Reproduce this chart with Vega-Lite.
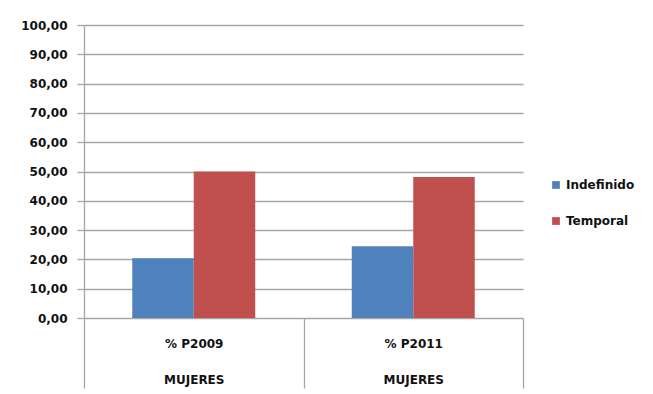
{
  "$schema": "https://vega.github.io/schema/vega-lite/v6.json",
  "autosize": {"type": "none"},
  "width": 439,
  "height": 293,
  "padding": {"left": 84, "top": 25, "right": 130, "bottom": 76},
  "background": "white",
  "data": {
    "values": [
      {"periodo": "% P2009", "tipo": "Indefinido", "valor": 20.4},
      {"periodo": "% P2009", "tipo": "Temporal", "valor": 50.0},
      {"periodo": "% P2011", "tipo": "Indefinido", "valor": 24.5},
      {"periodo": "% P2011", "tipo": "Temporal", "valor": 48.1}
    ]
  },
  "mark": {"type": "bar"},
  "encoding": {
    "x": {
      "field": "periodo",
      "type": "nominal",
      "scale": {"paddingInner": 0, "paddingOuter": 0},
      "axis": {
        "title": null,
        "labelAngle": 0,
        "tickBand": "extent",
        "tickSize": 70,
        "tickColor": "#a6a6a6",
        "tickWidth": 1.3,
        "domain": false,
        "labelPadding": -45,
        "labelBaseline": "middle",
        "labelExpr": "datum.label ? [datum.label, 'MUJERES'] : ''",
        "labelLineHeight": 36,
        "labelFont": "DejaVu Sans",
        "labelFontWeight": "bold",
        "labelFontSize": 12,
        "labelColor": "#111111"
      }
    },
    "xOffset": {
      "field": "tipo",
      "type": "nominal",
      "scale": {"paddingInner": 0, "paddingOuter": 0.785}
    },
    "y": {
      "field": "valor",
      "type": "quantitative",
      "scale": {"domain": [0, 100], "nice": false},
      "axis": {
        "title": null,
        "values": [0, 10, 20, 30, 40, 50, 60, 70, 80, 90, 100],
        "labelExpr": "replace(format(datum.value, '.2f'), '.', ',')",
        "grid": true,
        "gridColor": "#a6a6a6",
        "gridWidth": 1.3,
        "tickColor": "#a6a6a6",
        "tickWidth": 1.3,
        "tickSize": 7,
        "domainColor": "#a6a6a6",
        "domainWidth": 1.3,
        "labelPadding": 10,
        "labelFont": "DejaVu Sans",
        "labelFontWeight": "bold",
        "labelFontSize": 12,
        "labelColor": "#111111"
      }
    },
    "color": {
      "field": "tipo",
      "type": "nominal",
      "scale": {"domain": ["Indefinido", "Temporal"], "range": ["#4f81bd", "#c0504d"]},
      "legend": {
        "title": null,
        "orient": "none",
        "legendX": 466,
        "legendY": 154,
        "symbolType": "square",
        "symbolSize": 60,
        "symbolStrokeWidth": 0,
        "rowPadding": 24,
        "labelFont": "DejaVu Sans",
        "labelFontWeight": "bold",
        "labelFontSize": 12,
        "labelColor": "#111111",
        "labelOffset": 4
      }
    }
  },
  "config": {
    "view": {"stroke": null}
  }
}
